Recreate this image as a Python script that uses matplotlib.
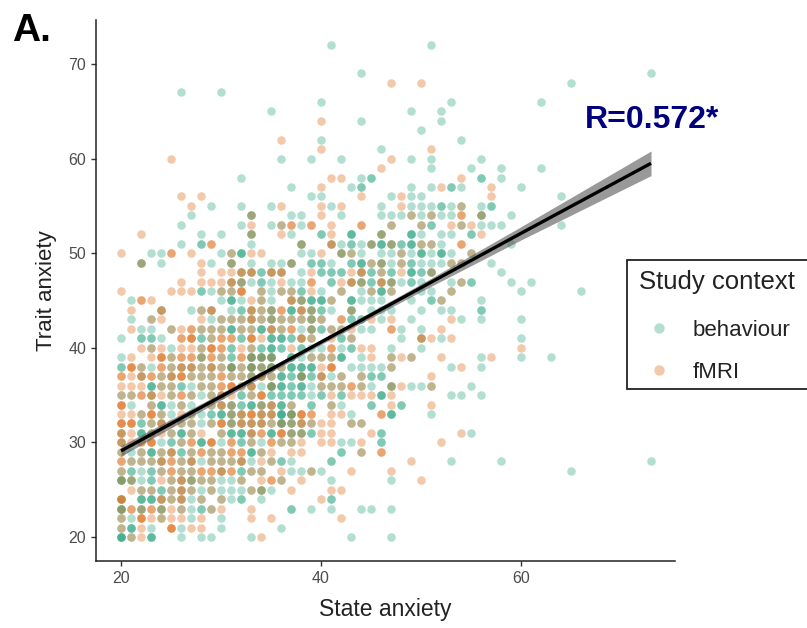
import matplotlib
matplotlib.use("Agg")
import matplotlib.pyplot as plt
from matplotlib.lines import Line2D
from matplotlib.patches import Rectangle

plt.rcParams['font.family'] = ['Liberation Sans', 'DejaVu Sans']

W, H = 807, 628

# repeated state values = several subjects stacked on one grid position
trait_levels = list(range(20, 73))

behaviour_state = [
    [20,20,20,20,21,23,23,23,26,28,29,33,43,47],  # 20
    [20,21,21,21,23,26,30,36],
    [20,21,24,27,30],
    [20,20,20,22,22,24,24,26,27,28,28,29,37,37,39,41,44,45,47],
    [20,22,22,22,23,23,23,24,25,26,27,28,30,31,32,32,34,41,41],
    [22,23,24,24,25,26,27,28,29,30,31,32,33,34,34,35],  # 25
    [20,20,20,21,21,22,23,23,25,26,27,27,28,29,30,31,32,36,41,47],
    [20,21,21,22,23,23,24,26,27,30,32,32,33,34,37,38,39,40,65],
    [21,22,23,24,26,27,28,29,30,31,32,33,35,36,36,37,41,41,53,58,73],
    [20,21,22,23,23,23,24,25,26,26,27,29,30,33,33,33,34,42,42,44],
    [20,24,25,25,26,28,28,28,30,32,32,33,34,36,37,42,43,46,46],  # 30
    [20,22,22,22,23,25,26,26,26,27,30,31,31,31,32,32,32,33,35,35,35,37,37,38,38,39,39,46,46,55],
    [22,22,23,24,26,27,28,29,31,31,32,33,34,35,36,36,36,37,37,38,39,43,44],
    [22,24,25,27,28,29,29,30,30,30,31,31,32,34,35,36,36,36,36,37,37,37,43,47,47,47,51],
    [21,23,24,24,24,25,26,27,29,30,31,31,32,32,33,33,33,34,34,35,36,36,36,37,39,39,41,42,45,45,48,48],
    [20,21,23,25,27,28,29,30,32,32,33,35,35,36,36,37,37,38,38,39,40,40,42,42,46,46,46,53,54,56],  # 35
    [23,23,23,24,25,26,26,27,28,29,32,33,34,35,35,35,36,36,36,37,37,38,38,38,39,40,41,42,44,45,47,47,49,50,51,55],
    [22,24,25,27,28,29,31,32,33,33,34,35,36,36,36,37,37,38,38,38,39,39,40,41,42,44,45,45,46,46],
    [20,20,22,23,25,26,27,28,29,30,31,31,31,32,33,33,33,34,34,35,35,35,36,37,37,37,38,38,38,39,39,39,43,44,45,46,47,53,56],
    [20,25,28,28,30,31,31,33,33,33,34,34,34,35,35,35,37,37,37,38,39,40,41,42,42,42,44,47,49,56,60,63],
    [23,25,28,31,31,33,34,34,35,35,35,36,36,38,38,39,40,42,43,43,47,50],  # 40
    [20,22,22,23,23,24,28,28,29,32,32,35,35,35,36,36,36,37,37,38,39,42,42,43,48,50,52,60],
    [22,23,25,28,29,30,31,31,31,32,33,34,34,34,35,36,38,39,39,40,40,41,42,44,45,48,50],
    [21,23,29,30,31,32,33,34,35,35,36,37,38,39,39,40,43,43,44,44,46,49,54,56,60],
    [24,27,28,29,31,32,32,33,34,35,35,37,37,37,38,39,39,40,40,41,43,43,45,46,47,50,52,53,56,56],
    [21,30,31,31,31,32,34,35,37,38,38,39,39,39,40,40,40,41,43,43,43,44,45,46,49,51,51,52,56],  # 45
    [28,28,29,30,31,34,35,36,37,38,38,40,42,44,45,46,46,46,47,50,51,53,60,66],
    [31,32,32,33,34,34,35,37,38,41,41,43,44,44,45,45,46,47,47,48,49,49,50,53,54,55,55,59,61],
    [32,33,34,34,35,36,38,40,40,41,41,42,42,44,45,45,46,47,47,49,49,49,50,50,51,51,58],
    [22,22,24,29,31,31,33,35,36,37,37,39,39,40,40,41,43,43,44,44,44,45,46,46,47,48,49,49,50,51,52,53,54,57],
    [23,24,30,31,32,32,32,38,39,42,42,43,44,46,47,48,49,50,50,50,51,52,52,52,53,55],  # 50
    [26,28,28,33,38,38,41,42,43,43,44,45,45,46,46,46,47,47,48,48,49,49,49,50,51,52,59],
    [28,30,33,33,37,40,40,43,43,43,46,46,49,49,49,50,52,53,55,55],
    [26,32,35,36,38,47,50,51,51,54,56,57,58,64],
    [27,33,33,37,38,42,46,47,48,49,50,51,52,53,56,56,59],
    [29,32,35,41,46,49,50,51,52,52,53,54,56,57,57],  # 55
    [39,40,47,49,50,64],
    [37,43,44,44,49,51,53,53,54,60],
    [32,44,45,45,56,56,58],
    [51,55,58,62],
    [36,39,42,49,51,56],  # 60
    [46],
    [40,54],
    [50],
    [44,52],
    [35,49,52],  # 65
    [40,53,62],
    [26,30],
    [65],
    [44,73],
    [],  # 70
    [],
    [41,51],
]

fmri_state = [
    [21,22,34],  # 20
    [20,22,25,25,25,27,28],
    [20,22,22,22,23,24,25,26,28,33,35,42],
    [20,21,21,22,23,23,24,25,26,29,30,33],
    [20,20,20,24,24,25,26,26,28,30,40],
    [21,22,23,25,26,26,27,29,33,34,37,41,42],  # 25
    [20,21,24,25,26,26,27,28,29,32,34,35,35,36,38,50],
    [20,24,25,25,26,27,28,28,29,29,30,30,31,31,33,34,36,39,43,47],
    [20,20,21,22,23,24,24,25,25,26,27,27,29,30,31,32,32,34,35,49],
    [20,22,24,25,25,27,28,28,29,30,31,31,32,32,34,35,37,38,44,46,46],
    [20,20,21,22,22,23,23,23,26,27,27,29,29,29,31,31,33,35,35,36,37,38,40,41,44,52],  # 30
    [20,20,21,23,24,25,27,28,30,33,33,34,34,36,36,36,37,38,40,41,45,54],
    [20,20,20,21,21,21,23,24,24,25,26,27,29,30,30,30,31,32,32,33,33,34,34,35,36,37,38,38,39,40,41,43,44],
    [20,21,22,23,23,23,24,26,27,31,32,32,33,33,33,34,34,35,35,37,38,38,38,39,39,41,42,46,46],
    [20,20,20,23,26,29,30,30,31,34,35,35,37,41,47,51],
    [20,21,22,22,23,23,24,25,26,26,27,29,30,30,31,33,34,34,34,41,43,44,45,47],  # 35
    [20,21,22,24,25,28,29,30,30,31,31,31,32,33,33,35,40,41,42,43,43,44,47,48,51],
    [20,20,21,22,22,23,23,24,25,25,26,26,26,27,28,29,30,30,31,32,33,34,34,35,38,40,40,42,44,51],
    [21,21,21,22,24,24,25,26,26,27,27,28,29,29,30,31,32,33,34,35,36,40,41,41,41,47,54],
    [21,23,24,24,24,25,26,26,27,27,28,29,29,30,32,32,33,34,35,39,40,41,45,47,48,49,52,57],
    [22,23,24,26,27,28,29,29,29,30,30,32,33,37,41,41,44,45,60],  # 40
    [26,26,27,27,27,29,30,30,31,31,33,33,33,34,38,38,39,41,43,50,50,51,53],
    [21,25,26,27,27,28,29,30,32,33,35,35,36,37,37,39,41,42,43,47,47,52],
    [23,24,28,30,31,32,33,33,34,35,36,37,38,39,40,42,42,45,47,53],
    [21,24,24,28,29,29,33,33,34,35,36,36,38,38,39,43],
    [22,22,23,33,34,37,37,38,41,52],  # 45
    [20,25,26,27,30,31,32,32,32,34,36,37,39,42,45,47,53],
    [26,28,29,30,31,31,32,36,39,39,42,43,43,44,46,46,47,54],
    [28,30,31,32,32,33,33,35,35,36,36,39,43,44,44,46,48,51],
    [22,28,31,37,45,46,48,53,54],
    [20,25,25,27,31,33,34,40,42,43,48,55],  # 50
    [29,29,38,41,41,45,47,50,51,54,54],
    [22,33,36,41,46,56],
    [33,36,37,37,39,39,41,44,44,47,50,53,54,55],
    [33,40,49,51,54,54,56],
    [27,36,40,42,48,54],  # 55
    [26,28,44,48,57],
    [40,52,57],
    [41,42,54],
    [46],
    [25,47],  # 60
    [40,51],
    [36],
    [],
    [40],
    [],  # 65
    [],
    [],
    [47,50],
    [],
    [],  # 70
    [],
    [],
]

fit_x = [20, 30, 40, 50, 60, 73]
fit_y = [29.1, 34.85, 40.6, 46.35, 52.1, 59.5]
fit_se = [0.55, 0.35, 0.25, 0.4, 0.7, 1.3]

x_ticks = [20, 40, 60]
y_ticks = [20, 30, 40, 50, 60, 70]

GREEN = '#1b9e77'
ORANGE = '#d95f02'
GREY = '#4d4d4d'


def flatten(rows):
    xs, ys = [], []
    for level, row in zip(trait_levels, rows):
        for s in row:
            xs.append(s)
            ys.append(level)
    return xs, ys


fig = plt.figure(figsize=(W / 100, H / 100), dpi=100)
ax = fig.add_axes([96 / W, 1 - 561 / H, (675 - 96) / W, (561 - 20) / H])

bx, by = flatten(behaviour_state)
fx, fy = flatten(fmri_state)
ax.scatter(bx, by, s=38, color=GREEN, alpha=0.33, linewidths=0, zorder=2)
ax.scatter(fx, fy, s=38, color=ORANGE, alpha=0.33, linewidths=0, zorder=2)

lower = [y - e for y, e in zip(fit_y, fit_se)]
upper = [y + e for y, e in zip(fit_y, fit_se)]
ax.fill_between(fit_x, lower, upper, color='#555555', alpha=0.6, linewidth=0, zorder=3)
ax.plot(fit_x, fit_y, color='black', lw=2.4, zorder=4, solid_capstyle='butt')

ax.set_xlim(17.5, 75.4)
ax.set_ylim(17.46, 74.65)
ax.set_xticks(x_ticks)
ax.set_yticks(y_ticks)
ax.spines['top'].set_visible(False)
ax.spines['right'].set_visible(False)
for side in ['left', 'bottom']:
    ax.spines[side].set_linewidth(1.1)
    ax.spines[side].set_color('#222222')
ax.tick_params(colors='#333333', labelcolor=GREY, labelsize=11.5, length=3.5, width=1)
ax.set_xlabel('State anxiety', fontsize=16.5, color='#222222', labelpad=9)
ax.set_ylabel('Trait anxiety', fontsize=16, color='#222222', labelpad=8)

fig.text(12 / W, 1 - 41 / H, 'A.', fontsize=28, fontweight='bold', color='black')
fig.text(585 / W, 1 - 128 / H, 'R=0.572*', fontsize=23, fontweight='bold', color='#00007f')

# legend box runs off the right edge
fig.add_artist(Rectangle((627 / W, 1 - 389 / H), 200 / W, 129 / H, transform=fig.transFigure,
                         facecolor='white', edgecolor='#222222', linewidth=1.3, zorder=5))
handles = [
    Line2D([], [], ls='', marker='o', ms=7.5, mew=0, color=GREEN, alpha=0.33, label='behaviour'),
    Line2D([], [], ls='', marker='o', ms=7.5, mew=0, color=ORANGE, alpha=0.33, label='fMRI'),
]
leg = fig.legend(handles=handles, loc='upper left', bbox_to_anchor=(628 / W, 1 - 311 / H),
                 borderaxespad=0, frameon=False, fontsize=16, labelspacing=0.93,
                 handletextpad=0.49, borderpad=0.4, labelcolor='#222222')
leg.set_zorder(6)
title = fig.text(639 / W, 1 - 282 / H, 'Study context', fontsize=18.5, color='#222222', va='center', zorder=6)

fig.savefig('out.png', dpi=100)
